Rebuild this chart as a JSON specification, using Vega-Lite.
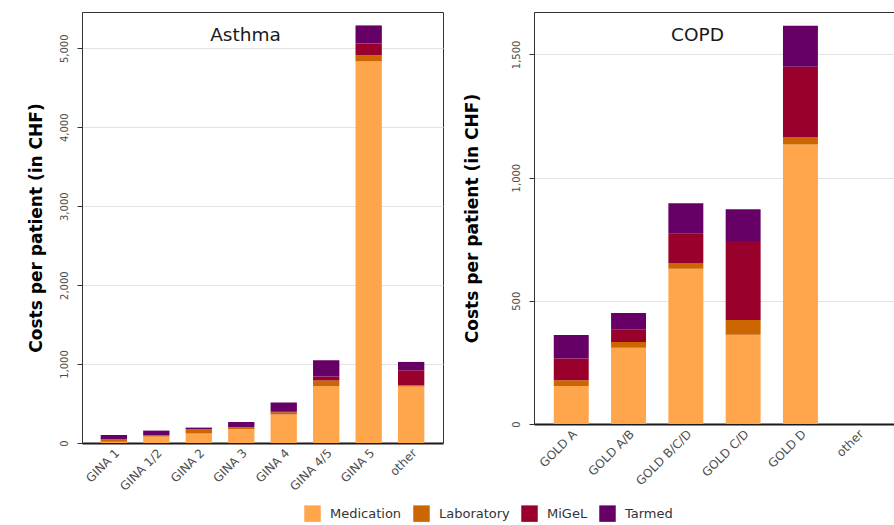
{
  "$schema": "https://vega.github.io/schema/vega-lite/v6.json",
  "padding": {"left": 26, "top": 11, "right": 0, "bottom": 0},
  "background": "white",
  "spacing": 18,
  "config": {
    "font": "DejaVu Sans",
    "view": {"stroke": "#333333", "strokeWidth": 1},
    "axis": {"labelFont": "DejaVu Sans", "titleFont": "DejaVu Sans", "labelColor": "#4d4d4d"},
    "legend": {
      "orient": "none", "direction": "horizontal", "legendX": 222, "legendY": 493,
      "symbolType": "square", "symbolSize": 272, "symbolStrokeWidth": 0, "symbolOpacity": 1,
      "labelFontSize": 13, "labelFont": "DejaVu Sans", "labelColor": "#333333", "labelOffset": 9, "columnPadding": 11, "title": null
    }
  },
  "datasets": {
    "components": [
      {"component": "Medication", "rank": 1},
      {"component": "Laboratory", "rank": 2},
      {"component": "MiGeL", "rank": 3},
      {"component": "Tarmed", "rank": 4}
    ],
    "asthma": [
      {"group": "GINA 1", "component": "Medication", "cost": 15},
      {"group": "GINA 1", "component": "Laboratory", "cost": 30},
      {"group": "GINA 1", "component": "MiGeL", "cost": 6},
      {"group": "GINA 1", "component": "Tarmed", "cost": 50},
      {"group": "GINA 1/2", "component": "Medication", "cost": 81},
      {"group": "GINA 1/2", "component": "Laboratory", "cost": 15},
      {"group": "GINA 1/2", "component": "MiGeL", "cost": 5},
      {"group": "GINA 1/2", "component": "Tarmed", "cost": 56},
      {"group": "GINA 2", "component": "Medication", "cost": 120},
      {"group": "GINA 2", "component": "Laboratory", "cost": 52},
      {"group": "GINA 2", "component": "MiGeL", "cost": 5},
      {"group": "GINA 2", "component": "Tarmed", "cost": 18},
      {"group": "GINA 3", "component": "Medication", "cost": 177},
      {"group": "GINA 3", "component": "Laboratory", "cost": 22},
      {"group": "GINA 3", "component": "MiGeL", "cost": 4},
      {"group": "GINA 3", "component": "Tarmed", "cost": 63},
      {"group": "GINA 4", "component": "Medication", "cost": 360},
      {"group": "GINA 4", "component": "Laboratory", "cost": 30},
      {"group": "GINA 4", "component": "MiGeL", "cost": 7},
      {"group": "GINA 4", "component": "Tarmed", "cost": 115},
      {"group": "GINA 4/5", "component": "Medication", "cost": 719},
      {"group": "GINA 4/5", "component": "Laboratory", "cost": 72},
      {"group": "GINA 4/5", "component": "MiGeL", "cost": 50},
      {"group": "GINA 4/5", "component": "Tarmed", "cost": 207},
      {"group": "GINA 5", "component": "Medication", "cost": 4838},
      {"group": "GINA 5", "component": "Laboratory", "cost": 76},
      {"group": "GINA 5", "component": "MiGeL", "cost": 148},
      {"group": "GINA 5", "component": "Tarmed", "cost": 228},
      {"group": "other", "component": "Medication", "cost": 715},
      {"group": "other", "component": "Laboratory", "cost": 16},
      {"group": "other", "component": "MiGeL", "cost": 190},
      {"group": "other", "component": "Tarmed", "cost": 106}
    ],
    "copd": [
      {"group": "GOLD A", "component": "Medication", "cost": 154},
      {"group": "GOLD A", "component": "Laboratory", "cost": 24},
      {"group": "GOLD A", "component": "MiGeL", "cost": 88},
      {"group": "GOLD A", "component": "Tarmed", "cost": 95},
      {"group": "GOLD A/B", "component": "Medication", "cost": 309},
      {"group": "GOLD A/B", "component": "Laboratory", "cost": 24},
      {"group": "GOLD A/B", "component": "MiGeL", "cost": 52},
      {"group": "GOLD A/B", "component": "Tarmed", "cost": 65},
      {"group": "GOLD B/C/D", "component": "Medication", "cost": 630},
      {"group": "GOLD B/C/D", "component": "Laboratory", "cost": 23},
      {"group": "GOLD B/C/D", "component": "MiGeL", "cost": 119},
      {"group": "GOLD B/C/D", "component": "Tarmed", "cost": 124},
      {"group": "GOLD C/D", "component": "Medication", "cost": 362},
      {"group": "GOLD C/D", "component": "Laboratory", "cost": 60},
      {"group": "GOLD C/D", "component": "MiGeL", "cost": 321},
      {"group": "GOLD C/D", "component": "Tarmed", "cost": 129},
      {"group": "GOLD D", "component": "Medication", "cost": 1134},
      {"group": "GOLD D", "component": "Laboratory", "cost": 31},
      {"group": "GOLD D", "component": "MiGeL", "cost": 285},
      {"group": "GOLD D", "component": "Tarmed", "cost": 166},
      {"group": "other", "component": "Medication", "cost": 0},
      {"group": "other", "component": "Laboratory", "cost": 0},
      {"group": "other", "component": "MiGeL", "cost": 0},
      {"group": "other", "component": "Tarmed", "cost": 0}
    ]
  },
  "hconcat": [
    {
      "data": {"name": "asthma"},
      "transform": [{"lookup": "component", "from": {"data": {"name": "components"}, "key": "component", "fields": ["rank"]}}],
      "width": 361,
      "height": 431,
      "title": {"text": "Asthma", "offset": -32, "dx": -17, "fontSize": 18.5, "fontWeight": "normal", "font": "DejaVu Sans", "color": "#1a1a1a"},
      "mark": {"type": "bar"},
      "encoding": {
        "x": {
          "field": "group", "type": "nominal", "sort": null, "title": null,
          "scale": {"paddingInner": 0.38, "paddingOuter": 0.44},
          "axis": {"labelAngle": -45, "labelFontSize": 12, "ticks": false, "labelPadding": 4, "domainColor": "#1a1a1a", "domainWidth": 2, "grid": false}
        },
        "y": {
          "field": "cost", "type": "quantitative", "stack": "zero",
          "title": "Costs per patient (in CHF)",
          "scale": {"domain": [0, 5460], "nice": false},
          "axis": {"values": [0, 1000, 2000, 3000, 4000, 5000], "format": ",d", "labelAngle": 270, "labelFontSize": 10, "tickSize": 5, "tickColor": "#333333", "labelPadding": 8, "domainColor": "#333333", "gridColor": "#e3e3e3", "titleFontSize": 17, "titleFontWeight": "bold", "titleColor": "#000000", "titlePadding": 14}
        },
        "color": {
          "field": "component", "type": "nominal",
          "sort": ["Medication", "Laboratory", "MiGeL", "Tarmed"],
          "scale": {"domain": ["Medication", "Laboratory", "MiGeL", "Tarmed"], "range": ["#FFA64D", "#CC6600", "#99002B", "#660066"]}
        },
        "order": {"field": "rank", "type": "quantitative", "sort": "ascending"}
      }
    },
    {
      "data": {"name": "copd"},
      "transform": [{"lookup": "component", "from": {"data": {"name": "components"}, "key": "component", "fields": ["rank"]}}],
      "width": 361,
      "height": 412,
      "title": {"text": "COPD", "offset": -32, "dx": -17, "fontSize": 18.5, "fontWeight": "normal", "font": "DejaVu Sans", "color": "#1a1a1a"},
      "mark": {"type": "bar"},
      "encoding": {
        "x": {
          "field": "group", "type": "nominal", "sort": null, "title": null,
          "scale": {"paddingInner": 0.39, "paddingOuter": 0.345},
          "axis": {"labelAngle": -45, "labelFontSize": 12, "ticks": false, "labelPadding": 4, "domainColor": "#1a1a1a", "domainWidth": 2, "grid": false}
        },
        "y": {
          "field": "cost", "type": "quantitative", "stack": "zero",
          "title": "Costs per patient (in CHF)",
          "scale": {"domain": [0, 1672], "nice": false},
          "axis": {"values": [0, 500, 1000, 1500], "format": ",d", "labelAngle": 270, "labelFontSize": 10, "tickSize": 5, "tickColor": "#333333", "labelPadding": 8, "domainColor": "#333333", "gridColor": "#e3e3e3", "titleFontSize": 17, "titleFontWeight": "bold", "titleColor": "#000000", "titlePadding": 30}
        },
        "color": {
          "field": "component", "type": "nominal",
          "sort": ["Medication", "Laboratory", "MiGeL", "Tarmed"],
          "scale": {"domain": ["Medication", "Laboratory", "MiGeL", "Tarmed"], "range": ["#FFA64D", "#CC6600", "#99002B", "#660066"]}
        },
        "order": {"field": "rank", "type": "quantitative", "sort": "ascending"}
      }
    }
  ]
}
